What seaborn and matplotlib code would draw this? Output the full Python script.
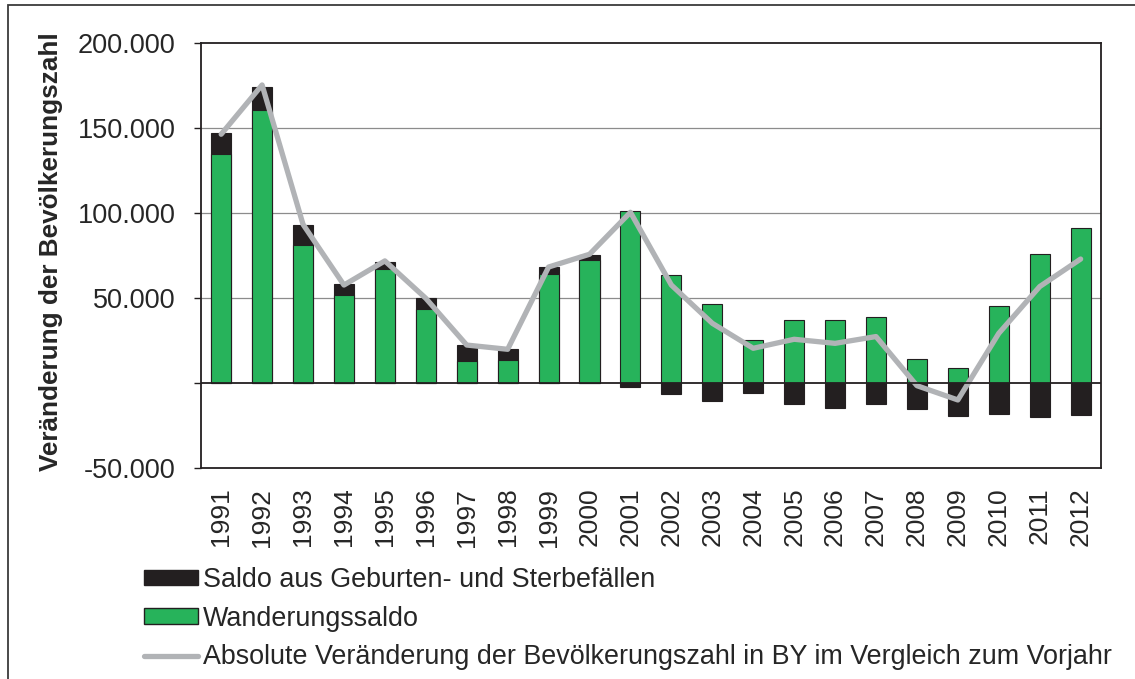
import matplotlib
matplotlib.use("Agg")
import matplotlib.pyplot as plt
import matplotlib.ticker as mticker
from matplotlib.patches import Patch, Rectangle
from matplotlib.lines import Line2D
import seaborn as sns
import pandas as pd
import numpy as np

sns.set_style("white")
plt.rcParams['font.family'] = ['Liberation Sans', 'DejaVu Sans']

# data (persons)
years = [str(y) for y in range(1991, 2013)]
wanderung = [134700, 161000, 81600, 52200, 67500, 43900, 12900, 13700, 64300, 72700,
             101200, 63900, 46500, 25700, 37500, 37100, 39000, 14100, 9000, 45700,
             76100, 91600]
natuerlich = [12600, 13500, 11500, 6500, 4100, 6500, 9600, 6300, 4100, 2500,
              -2200, -6300, -10600, -5500, -12400, -14300, -12000, -15100, -19000, -18000,
              -19600, -18600]
veraenderung = [146500, 175500, 93500, 57800, 72000, 50000, 22500, 20000, 68400, 75900,
                100600, 57800, 35300, 20600, 25900, 23500, 27500, -1400, -9800, 29400,
                56900, 73100]

green = "#27B35B"
dark = "#231F20"
grey = "#B1B3B6"

# black segment sits on top of the green bar when positive, below zero when negative
schwarz = [w + n if n > 0 else n for w, n in zip(wanderung, natuerlich)]
df = pd.DataFrame({"jahr": years, "wanderung": wanderung,
                   "schwarz": schwarz, "veraenderung": veraenderung})

fig = plt.figure(figsize=(11.35, 6.79), dpi=100)
ax = fig.add_axes([200.7 / 1135, 1 - 468.3 / 679, 900.4 / 1135, 425 / 679])

sns.barplot(data=df, x="jahr", y="schwarz", color=dark, width=0.49,
            edgecolor=dark, linewidth=0.8, saturation=1, ax=ax, zorder=2)
sns.barplot(data=df, x="jahr", y="wanderung", color=green, width=0.49,
            edgecolor=dark, linewidth=0.8, saturation=1, ax=ax, zorder=3)
ax.plot(np.arange(len(years)), df["veraenderung"], color=grey, linewidth=3.8,
        solid_capstyle="round", solid_joinstyle="round", zorder=4)

ax.set_ylim(-50000, 200000)
ax.set_xlim(-0.5, len(years) - 0.5)
ax.set_yticks([-50000, 0, 50000, 100000, 150000, 200000])
ax.yaxis.set_major_formatter(mticker.FuncFormatter(
    lambda v, p: "" if v == 0 else f"{v:,.0f}".replace(",", ".")))
for v in [50000, 100000, 150000]:
    ax.axhline(v, color="#8C8C8C", linewidth=0.9, zorder=1)
ax.axhline(0, color=dark, linewidth=1.3, zorder=5)

for s in ax.spines.values():
    s.set_color(dark)
    s.set_linewidth(1.3)

ax.tick_params(axis="y", length=5, width=1, color=dark, pad=13, labelsize=19.5,
               left=True)
ax.tick_params(axis="x", length=0, pad=14, labelsize=19, labelrotation=90)
ax.set_xlabel("")
ax.set_ylabel("Veränderung der Bevölkerungszahl", fontsize=18.8, fontweight="bold")
ax.yaxis.set_label_coords(-0.153, 0.51)

handles = [
    Patch(facecolor=dark, edgecolor=dark),
    Patch(facecolor=green, edgecolor=dark),
    Line2D([0], [0], color=grey, linewidth=3.8),
]
labels = [
    "Saldo aus Geburten- und Sterbefällen",
    "Wanderungssaldo",
    "Absolute Veränderung der Bevölkerungszahl in BY im Vergleich zum Vorjahr",
]
fig.legend(handles, labels, loc="upper left", bbox_to_anchor=(144 / 1135, 1 - 567 / 679),
           frameon=False, fontsize=19.4, handlelength=2.0, handleheight=0.5,
           handletextpad=0.2, labelspacing=0.47, borderaxespad=0, borderpad=0)

# outer frame (only top and left edges visible in the reference)
fig.patches.append(Rectangle((8 / 1135, -0.1), 1.2, 1 - 5 / 679 + 0.1,
                             transform=fig.transFigure, fill=False,
                             edgecolor="#3A3A3A", linewidth=1.3))

fig.savefig("out.png", dpi=100)
